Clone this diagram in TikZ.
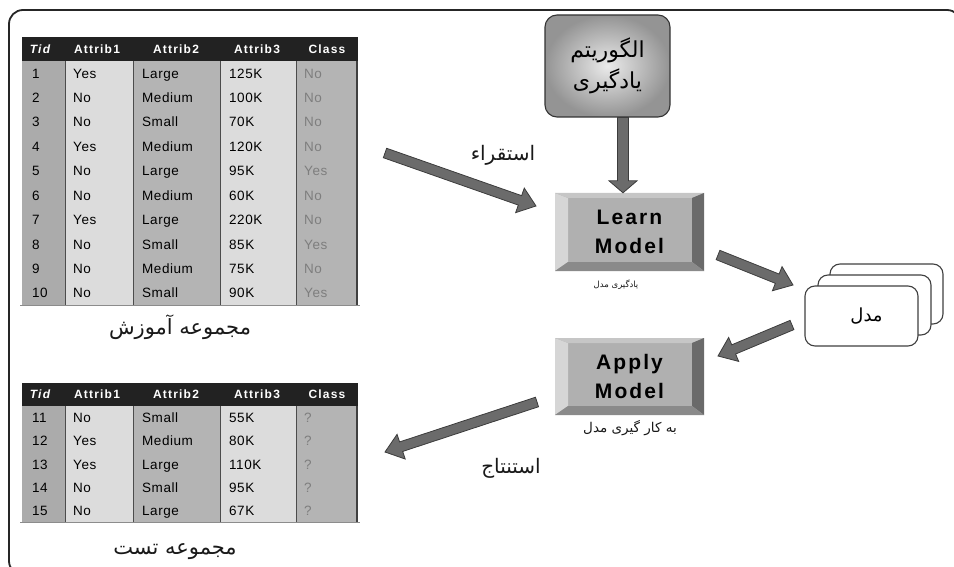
\documentclass[tikz,border=0pt]{standalone}
\usepackage{fontspec}
\usetikzlibrary{calc,shadings}
\setmainfont{Liberation Sans}
\newfontfamily\fa[Script=Arabic]{DejaVu Sans}
\newfontfamily\tblf[LetterSpace=4]{Liberation Sans}
\newfontfamily\hdrf[LetterSpace=10]{Liberation Sans}
\newfontfamily\btnf[LetterSpace=10]{Liberation Sans}
\TeXXeTstate=1
\definecolor{colA}{HTML}{ABABAB}
\definecolor{colL}{HTML}{DCDCDC}
\definecolor{colM}{HTML}{B4B4B4}
\definecolor{hdrbg}{HTML}{222222}
\definecolor{clstxt}{HTML}{7E7E7E}
\definecolor{arrfill}{HTML}{6B6B6B}
\definecolor{arrline}{HTML}{3C3C3C}
\definecolor{bvface}{HTML}{B0B0B0}
\definecolor{bvleft}{HTML}{D6D6D6}
\definecolor{bvtop}{HTML}{C6C6C6}
\definecolor{bvright}{HTML}{6A6A6A}
\definecolor{bvbot}{HTML}{8A8A8A}
\tikzset{
  sepline/.style={draw=black!70, line width=0.9pt},
  edgeline/.style={draw=black!75, line width=1.4pt},
  botline/.style={draw=black!45, line width=1pt},
  hdrtext/.style={text=white, font=\hdrf\bfseries\fontsize{12}{14}\selectfont, anchor=base, inner sep=0pt},
  bodytext/.style={font=\tblf\fontsize{13.5}{16}\selectfont, anchor=base west, inner sep=0pt},
  fatext/.style={font=\fa\fontsize{#1}{#1}\selectfont, inner sep=0pt, text=black!90},
  arrowst/.style={fill=arrfill, draw=arrline, line width=0.8pt, line join=miter},
  mbox/.style={draw=black!75, line width=1.1pt, fill=white, rounded corners=10pt, minimum width=113pt, minimum height=60pt, inner sep=0pt},
  algo/.style={draw=black!80, line width=1.1pt, rounded corners=12pt, inner color=black!8, outer color=black!42, minimum width=125pt, minimum height=102pt, align=center, inner sep=0pt},
  bevelbox/.style={minimum width=149pt, minimum height=78pt, inner sep=0pt, fill=bvface, align=center, text=black,
    font=\btnf\bfseries\fontsize{21}{29}\selectfont,
    path picture={
      \path (path picture bounding box.north west) coordinate (bnw)
            (path picture bounding box.south east) coordinate (bse)
            (path picture bounding box.north east) coordinate (bne)
            (path picture bounding box.south west) coordinate (bsw);
      \fill[bvleft] (bnw) -- (bsw) -- ($(bsw)+(13,-9)$) -- ($(bnw)+(13,5)$) -- cycle;
      \fill[bvtop] (bnw) -- (bne) -- ($(bne)+(-12,5)$) -- ($(bnw)+(13,5)$) -- cycle;
      \fill[bvright] (bne) -- (bse) -- ($(bse)+(-12,-9)$) -- ($(bne)+(-12,5)$) -- cycle;
      \fill[bvbot] (bsw) -- (bse) -- ($(bse)+(-12,-9)$) -- ($(bsw)+(13,-9)$) -- cycle;
    }},
}
% #1 start, #2 end, #3 half shaft, #4 half head, #5 head length
\newcommand\blockarrow[5]{%
  \coordinate (ba-h) at ($(#2)!#5!(#1)$);
  \filldraw[arrowst] ($(#1)!#3!90:(#2)$) -- ($(ba-h)!#3!90:(#2)$) -- ($(ba-h)!#4!90:(#2)$) -- (#2)
     -- ($(ba-h)!#4!-90:(#2)$) -- ($(ba-h)!#3!-90:(#2)$) -- ($(#1)!#3!-90:(#2)$) -- cycle;
}
% #1 prefix, #2 ytop, #3 header bottom, #4 row height, #5 rows, #6 data
\newcommand\mytable[6]{%
  \pgfmathsetmacro\ybot{#3+#4*#5}
  \fill[colA] (22,#3) rectangle (65,\ybot);
  \fill[colL] (65,#3) rectangle (133,\ybot);
  \fill[colM] (133,#3) rectangle (220,\ybot);
  \fill[colL] (220,#3) rectangle (296,\ybot);
  \fill[colM] (296,#3) rectangle (357,\ybot);
  \fill[hdrbg] (22,#2) rectangle (358,#3);
  \foreach \xx in {65,133,220,296} \draw[sepline] (\xx,#3) -- (\xx,\ybot);
  \draw[edgeline] (357,#3) -- (357,\ybot);
  \draw[botline] (20,\ybot) -- (360,\ybot);
  \pgfmathsetmacro\yh{(#2+#3)/2+4.3}
  \node[hdrtext] (#1-h1) at (40,\yh) {\itshape Tid};
  \node[hdrtext] (#1-h2) at (97,\yh) {Attrib1};
  \node[hdrtext] (#1-h3) at (176,\yh) {Attrib2};
  \node[hdrtext] (#1-h4) at (257,\yh) {Attrib3};
  \node[hdrtext] (#1-h5) at (327,\yh) {Class};
  \foreach \va/\vb/\vc/\vd/\ve [count=\i] in {#6} {
    \pgfmathsetmacro\yb{#3+#4*(\i-0.5)+5}
    \node[bodytext] (#1-\i-1) at (32,\yb) {\va};
    \node[bodytext] (#1-\i-2) at (73,\yb) {\vb};
    \node[bodytext] (#1-\i-3) at (142,\yb) {\vc};
    \node[bodytext] (#1-\i-4) at (229,\yb) {\vd};
    \node[bodytext, text=clstxt] (#1-\i-5) at (304,\yb) {\ve};
  }
}
\begin{document}
\begin{tikzpicture}[x=1pt,y=-1pt]
\useasboundingbox (0,0) rectangle (954,567);
\begin{scope}
  \clip (0,0) rectangle (954,567);
  \draw[line width=1.8pt, draw=black!85, rounded corners=14pt] (60,575) -- (9,575) -- (9,10) -- (961,10) -- (961,60);
\end{scope}

% tables
\mytable{tr}{37}{61}{24.4}{10}{1/Yes/Large/125K/No, 2/No/Medium/100K/No, 3/No/Small/70K/No, 4/Yes/Medium/120K/No, 5/No/Large/95K/Yes, 6/No/Medium/60K/No, 7/Yes/Large/220K/No, 8/No/Small/85K/Yes, 9/No/Medium/75K/No, 10/No/Small/90K/Yes}
\mytable{ts}{383}{406}{23.2}{5}{11/No/Small/55K/?, 12/Yes/Medium/80K/?, 13/Yes/Large/110K/?, 14/No/Small/95K/?, 15/No/Large/67K/?}

\node[fatext=21] (captrain) at (180,327) {\beginR مجموعه آموزش\endR};
\node[fatext=21] (captest) at (175,552) {\beginR مجموعه تست\endR};

% algorithm box
\node[algo, font=\fa\fontsize{22}{31}\selectfont] (algo) at (607.5,66) {\beginR الگوریتم\endR\\\beginR یادگیری\endR};

% learn / apply boxes
\node[bevelbox] (learn) at (629.5,232) {Learn\\Model};
\node[bevelbox, minimum height=77pt] (apply) at (629.5,376.5) {Apply\\Model};
\node[fatext=8.5] (caplearn) at (616,285) {\beginR یادگیری مدل\endR};
\node[fatext=13.5] (capapply) at (630,428) {\beginR به کار گیری مدل\endR};

% model stack
\node[mbox] (mback) at (886.5,294) {};
\node[mbox] (mmid) at (874.5,305) {};
\node[mbox, font=\fa\fontsize{18}{18}\selectfont] (model) at (861.5,316) {\hspace*{10pt}\beginR مدل\endR};

% labels
\node[fatext=20] (induct) at (503,155) {\beginR استقراء\endR};
\node[fatext=20] (deduct) at (511,468) {\beginR استنتاج\endR};

% arrows
\coordinate (a1s) at (385,153);
\coordinate (a1e) at (536,206);
\coordinate (a2s) at (718,255);
\coordinate (a2e) at (793,285);
\coordinate (a3s) at (792,325);
\coordinate (a3e) at (718,356);
\coordinate (a4s) at (537,402);
\coordinate (a4e) at (385,452);
\coordinate (d1s) at (algo.south -| 623,0);
\coordinate (d1e) at (learn.north -| 623,0);
\blockarrow{a1s}{a1e}{5pt}{13pt}{17pt}
\blockarrow{a2s}{a2e}{5pt}{13pt}{17pt}
\blockarrow{a3s}{a3e}{5pt}{13pt}{17pt}
\blockarrow{a4s}{a4e}{5pt}{13pt}{17pt}
\blockarrow{d1s}{d1e}{5.5pt}{14pt}{12pt}
\end{tikzpicture}
\end{document}
